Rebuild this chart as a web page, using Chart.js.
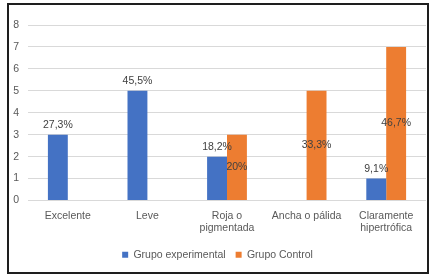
<!DOCTYPE html>
<html>
<head>
<meta charset="utf-8">
<script src="https://cdn.jsdelivr.net/npm/chart.js@4"></script>
<style>
  html, body { margin: 0; padding: 0; background: #fff; }
  #frame { position: absolute; left: 7px; top: 3px; width: 418px; height: 267px; border: 2px solid #1e1e1e; }
  #chartCanvas { display: block; }
</style>
</head>
<body>
<div id="frame"><canvas id="chartCanvas" width="418" height="267"></canvas></div>
<script>
// Chart data
const categories = ['Excelente', 'Leve', ['Roja o', 'pigmentada'], 'Ancha o pálida', ['Claramente', 'hipertrófica']];
const experimental = [3, 5, 2, 0, 1];
const control = [0, 0, 3, 5, 7];
const experimentalLabels = ['27,3%', '45,5%', '18,2%', '', '9,1%'];
const controlLabels = ['', '', '20%', '33,3%', '46,7%'];
const yTicks = [0, 1, 2, 3, 4, 5, 6, 7, 8];

const FONT = "'Liberation Sans Narrow', 'Arial Narrow', 'Liberation Sans', Arial, sans-serif";
const FS = 10.5;

// simple value labels: blue above the bar, orange in the middle
const barLabels = {
    id: 'barLabels',
    afterDatasetsDraw(chart) {
        const ctx = chart.ctx;
        ctx.save();
        ctx.font = FS + 'px ' + FONT;
        ctx.fillStyle = '#404040';
        ctx.textAlign = 'center';
        chart.data.datasets.forEach((ds, i) => {
            const meta = chart.getDatasetMeta(i);
            meta.data.forEach((bar, j) => {
                const txt = ds.valueLabels[j];
                if (!txt) return;
                if (i === 0) {
                    ctx.textBaseline = 'bottom';
                    ctx.fillText(txt, bar.x, bar.y - 4);
                } else {
                    ctx.textBaseline = 'middle';
                    ctx.fillText(txt, bar.x, (bar.y + bar.base) / 2);
                }
            });
        });
        ctx.restore();
    }
};

const ctx = document.getElementById('chartCanvas').getContext('2d');
window.chart = new Chart(ctx, {
    type: 'bar',
    data: {
        labels: categories,
        datasets: [
            { label: 'Grupo experimental', data: experimental, valueLabels: experimentalLabels, backgroundColor: '#4472C4' },
            { label: 'Grupo Control', data: control, valueLabels: controlLabels, backgroundColor: '#ED7D31' }
        ]
    },
    options: {
        responsive: false,
        animation: false,
        devicePixelRatio: 1,
        layout: { padding: { top: 20, right: 1, left: 0, bottom: 2 } },
        datasets: { bar: { categoryPercentage: 0.5, barPercentage: 1 } },
        plugins: {
            tooltip: { enabled: false },
            legend: {
                position: 'bottom',
                labels: { boxWidth: 6, boxHeight: 6, padding: 10, color: '#595959', font: { family: FONT, size: FS } }
            }
        },
        scales: {
            x: {
                afterFit(scale) { scale.height = 39; },
                grid: { display: false },
                border: { display: false },
                ticks: { color: '#595959', padding: 1, maxRotation: 0, autoSkip: false, font: { family: FONT, size: FS } }
            },
            y: {
                min: 0, max: 8,
                afterFit(scale) { scale.width = 19; },
                afterBuildTicks(scale) { scale.ticks = yTicks.map(v => ({ value: v })); },
                grid: { color: '#d9d9d9', drawTicks: false },
                border: { display: false },
                ticks: { color: '#595959', padding: 9, font: { family: FONT, size: FS } }
            }
        }
    },
    plugins: [barLabels]
});
</script>
</body>
</html>
